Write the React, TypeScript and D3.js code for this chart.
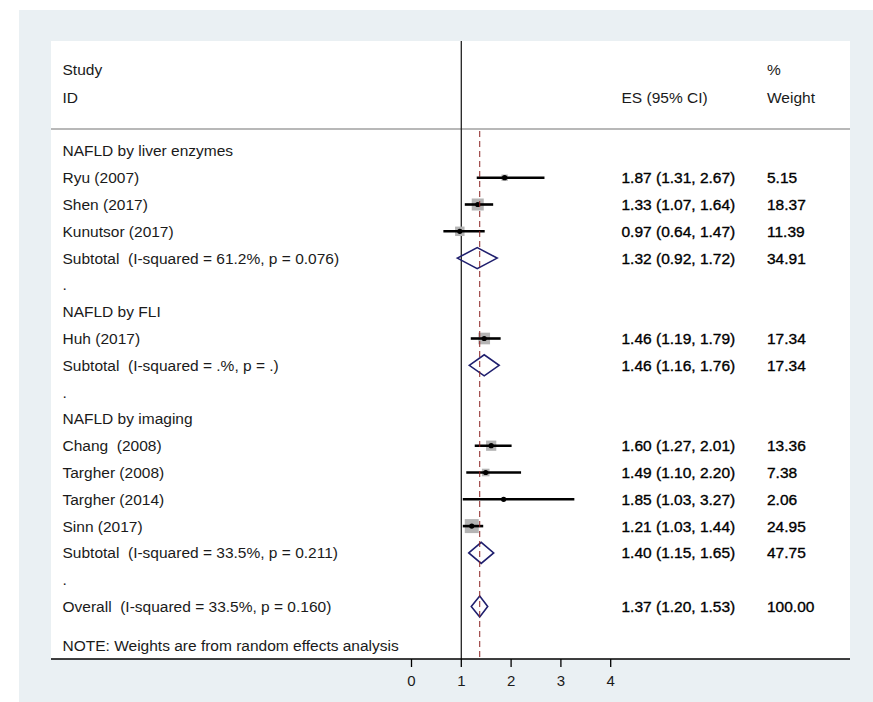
import React from 'react';
import { scaleLinear } from 'd3';

// rows of the forest plot, top to bottom
const rowLabels = [
  'NAFLD by liver enzymes',
  'Ryu (2007)',
  'Shen (2017)',
  'Kunutsor (2017)',
  'Subtotal  (I-squared = 61.2%, p = 0.076)',
  '.',
  'NAFLD by FLI',
  'Huh (2017)',
  'Subtotal  (I-squared = .%, p = .)',
  '.',
  'NAFLD by imaging',
  'Chang  (2008)',
  'Targher (2008)',
  'Targher (2014)',
  'Sinn (2017)',
  'Subtotal  (I-squared = 33.5%, p = 0.211)',
  '.',
  'Overall  (I-squared = 33.5%, p = 0.160)',
];
const rowTypes = [
  'group', 'study', 'study', 'study', 'sub', 'blank',
  'group', 'study', 'sub', 'blank',
  'group', 'study', 'study', 'study', 'study', 'sub', 'blank',
  'sub',
];
const estimates = [null, 1.87, 1.33, 0.97, 1.32, null, null, 1.46, 1.46, null, null, 1.6, 1.49, 1.85, 1.21, 1.4, null, 1.37];
const lowers = [null, 1.31, 1.07, 0.64, 0.92, null, null, 1.19, 1.16, null, null, 1.27, 1.1, 1.03, 1.03, 1.15, null, 1.2];
const uppers = [null, 2.67, 1.64, 1.47, 1.72, null, null, 1.79, 1.76, null, null, 2.01, 2.2, 3.27, 1.44, 1.65, null, 1.53];
const weights = [null, 5.15, 18.37, 11.39, 34.91, null, null, 17.34, 17.34, null, null, 13.36, 7.38, 2.06, 24.95, 47.75, null, 100.0];

const xTicks = [0, 1, 2, 3, 4];
const overallES = 1.37;

const W = 873;
const H = 702;
const font = '"Liberation Sans", Arial, Helvetica, sans-serif';

function App() {
  const x = scaleLinear().domain([0, 4]).range([411.5, 610.7]);
  const y = scaleLinear().domain([0, rowLabels.length - 1]).range([150.9, 606.5]);

  const panel = { left: 51, right: 850, top: 41, bottom: 659 };
  const textX = 62.5;
  const esX = 621.5;
  const wX = 767;
  const fmt = (v) => v.toFixed(2);
  const diamondH = 10.5;

  return (
    <svg
      width={W}
      height={H}
      style={{ position: 'absolute', left: 0, top: 0, display: 'block' }}
      fontFamily={font}
      fontSize={15.5}
    >
      <rect x={0} y={0} width={W} height={H} fill="#fff" />
      <rect x={19} y={10} width={W - 19} height={H - 10} fill="#eaf0f3" />
      <rect
        x={panel.left}
        y={panel.top}
        width={panel.right - panel.left}
        height={panel.bottom - panel.top}
        fill="#fff"
      />

      {/* header */}
      <g fill="#1a1a1a">
        <text x={textX} y={70} dy="0.35em">Study</text>
        <text x={textX} y={97.3} dy="0.35em">ID</text>
        <text x={esX} y={97.3} dy="0.35em">ES (95% CI)</text>
        <text x={wX} y={70} dy="0.35em">%</text>
        <text x={wX} y={97.3} dy="0.35em">Weight</text>
      </g>
      <line x1={panel.left} x2={panel.right} y1={129} y2={129} stroke="#a0a0a0" strokeWidth={1.5} />

      {/* line of no effect */}
      <line x1={x(1)} x2={x(1)} y1={panel.top} y2={panel.bottom} stroke="#222" strokeWidth={1.3} />

      {/* rows */}
      {rowLabels.map((label, i) => {
        const cy = y(i);
        const t = rowTypes[i];
        const es = estimates[i];
        return (
          <g key={i}>
            <text x={textX} y={cy} dy="0.35em" fill="#1a1a1a" style={{ whiteSpace: 'pre' }}>
              {label}
            </text>
            {t === 'study' && (
              <g>
                <rect
                  x={x(es) - (2.8 * Math.sqrt(weights[i])) / 2}
                  y={cy - (2.8 * Math.sqrt(weights[i])) / 2}
                  width={2.8 * Math.sqrt(weights[i])}
                  height={2.8 * Math.sqrt(weights[i])}
                  fill="#b4b4b4"
                />
                <line x1={x(lowers[i])} x2={x(uppers[i])} y1={cy} y2={cy} stroke="#000" strokeWidth={2.6} />
                <circle cx={x(es)} cy={cy} r={2.6} fill="#000" />
              </g>
            )}
            {t === 'sub' && (
              <path
                d={`M${x(lowers[i])},${cy} L${x(es)},${cy - diamondH} L${x(uppers[i])},${cy} L${x(es)},${cy + diamondH} Z`}
                fill="none"
                stroke="#1f1f6e"
                strokeWidth={1.6}
              />
            )}
            {es !== null && (
              <g fill="#000" stroke="#000" strokeWidth={0.35}>
                <text x={esX} y={cy} dy="0.35em">
                  {`${fmt(es)} (${fmt(lowers[i])}, ${fmt(uppers[i])})`}
                </text>
                <text x={wX} y={cy} dy="0.35em">{fmt(weights[i])}</text>
              </g>
            )}
          </g>
        );
      })}

      {/* overall effect */}
      <line
        x1={x(overallES)}
        x2={x(overallES)}
        y1={131}
        y2={panel.bottom}
        stroke="#8b2020"
        strokeWidth={1}
        strokeDasharray="6,4"
      />

      <text x={textX} y={645.7} dy="0.35em" fill="#1a1a1a">
        NOTE: Weights are from random effects analysis
      </text>

      {/* axis */}
      <line x1={panel.left} x2={panel.right} y1={panel.bottom} y2={panel.bottom} stroke="#000" strokeWidth={1.6} />
      {xTicks.map((t) => (
        <g key={t}>
          <line x1={x(t)} x2={x(t)} y1={panel.bottom} y2={panel.bottom + 8} stroke="#000" strokeWidth={1.3} />
          <text x={x(t)} y={680.7} dy="0.35em" textAnchor="middle" fill="#1a1a1a" fontSize={15}>
            {t}
          </text>
        </g>
      ))}
    </svg>
  );
}

export default App;
